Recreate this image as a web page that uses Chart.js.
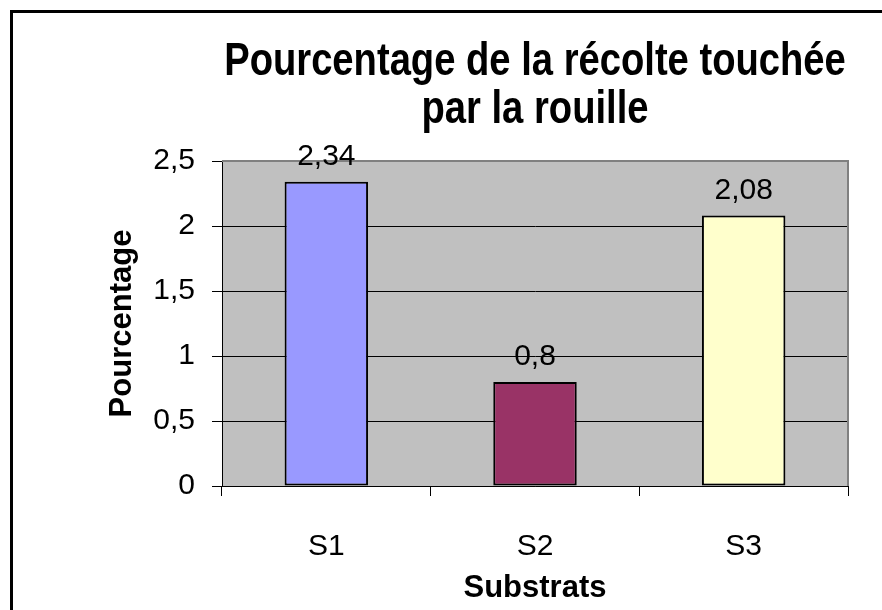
<!DOCTYPE html>
<html>
<head>
<meta charset="utf-8">
<title>Pourcentage de la récolte touchée par la rouille</title>
<script src="https://cdn.jsdelivr.net/npm/chart.js@4/dist/chart.umd.min.js"></script>
<style>
    body { margin: 0; background: #ffffff; }
    canvas { display: block; }
</style>
</head>
<body>
<canvas id="rustChart" width="882" height="610"></canvas>
<script>
const categories = ["S1", "S2", "S3"];
const values = [2.34, 0.8, 2.08];
const barColors = ["#9999FF", "#993366", "#FFFFCC"];
const yTicks = [0, 0.5, 1, 1.5, 2, 2.5];
const titleLines = ["Pourcentage de la récolte touchée", "par la rouille"];

const FONT = "'Liberation Sans', Arial, sans-serif";

function frenchNumber(v) {
    return String(v).replace(".", ",");
}

// gray plot background, gray top/right edge, outer frame, condensed title, value labels
const plotDecor = {
    id: "plotDecor",
    beforeDraw(chart) {
        const { ctx, chartArea: a } = chart;
        ctx.save();
        ctx.fillStyle = "#C0C0C0";
        ctx.fillRect(a.left, a.top, a.right - a.left, a.bottom - a.top);
        ctx.restore();
    },
    beforeDatasetsDraw(chart) {
        const { ctx, chartArea: a } = chart;
        ctx.save();
        ctx.strokeStyle = "#808080";
        ctx.lineWidth = 2;
        ctx.beginPath();
        ctx.moveTo(a.left, a.top);
        ctx.lineTo(a.right, a.top);
        ctx.lineTo(a.right, a.bottom);
        ctx.stroke();
        ctx.restore();
    },
    afterDatasetsDraw(chart) {
        const { ctx } = chart;
        const meta = chart.getDatasetMeta(0);
        ctx.save();
        ctx.font = "30px " + FONT;
        ctx.fillStyle = "#000000";
        ctx.textAlign = "center";
        ctx.textBaseline = "alphabetic";
        meta.data.forEach((bar, i) => {
            ctx.fillText(frenchNumber(values[i]), bar.x, bar.y - 17);
        });
        ctx.restore();
    },
    afterDraw(chart) {
        const { ctx, chartArea: a } = chart;
        // title, slightly condensed like the original
        const cx = (a.left + a.right) / 2;
        ctx.save();
        ctx.font = "bold 46px " + FONT;
        ctx.fillStyle = "#000000";
        ctx.textAlign = "center";
        ctx.textBaseline = "middle";
        titleLines.forEach((line, i) => {
            ctx.save();
            ctx.translate(cx, 62 + i * 48);
            ctx.scale(0.83, 1);
            ctx.fillText(line, 0, 0);
            ctx.restore();
        });
        ctx.restore();

        ctx.save();
        ctx.strokeStyle = "#000000";
        ctx.lineWidth = 3;
        ctx.strokeRect(11.5, 11.5, 2000, 2000);
        ctx.restore();
    },
};

const ctx = document.getElementById("rustChart").getContext("2d");
new Chart(ctx, {
    type: "bar",
    data: {
        labels: categories,
        datasets: [{
            data: values,
            backgroundColor: barColors,
            borderColor: "#000000",
            borderWidth: 2,
            borderSkipped: false,
            barPercentage: 0.4,
            categoryPercentage: 1,
        }],
    },
    options: {
        responsive: false,
        animation: false,
        layout: { padding: { left: 0, right: 34, top: 161, bottom: 0 } },
        plugins: {
            legend: { display: false },
            tooltip: { enabled: false },
            title: { display: false },
        },
        scales: {
            x: {
                afterFit(scale) { scale.height = 124; },
                grid: {
                    drawOnChartArea: false,
                    color: "#000000",
                    tickLength: 10,
                    offset: true,
                },
                border: { color: "#000000", width: 1 },
                ticks: {
                    color: "#000000",
                    padding: 33,
                    font: { family: FONT, size: 30 },
                },
                title: {
                    display: true,
                    text: "Substrats",
                    color: "#000000",
                    font: { family: FONT, size: 31, weight: "bold" },
                    padding: { top: 0, bottom: 3 },
                },
            },
            y: {
                min: yTicks[0],
                max: yTicks[yTicks.length - 1],
                afterFit(scale) { scale.width = 222; },
                afterBuildTicks(scale) {
                    scale.ticks = yTicks.map((v) => ({ value: v }));
                },
                grid: {
                    color: "#000000",
                    lineWidth: 1,
                    tickLength: 10,
                },
                border: { color: "#000000", width: 1 },
                ticks: {
                    color: "#000000",
                    padding: 17,
                    font: { family: FONT, size: 30 },
                    callback: (v) => frenchNumber(v),
                },
                title: {
                    display: true,
                    text: "Pourcentage",
                    color: "#000000",
                    font: { family: FONT, size: 31, weight: "bold" },
                    padding: { top: 104, bottom: 0 },
                },
            },
        },
    },
    plugins: [plotDecor],
});
</script>
</body>
</html>
